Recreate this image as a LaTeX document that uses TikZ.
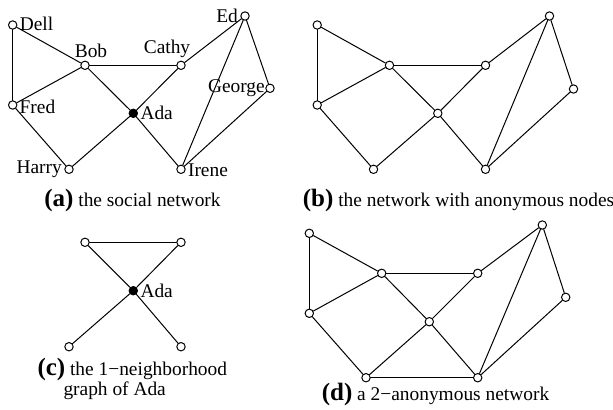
\documentclass[tikz,border=0pt]{standalone}
\usepackage{fontspec}
\setmainfont{Liberation Serif}
\newcommand{\tagfont}{\fontsize{12.5}{14}\selectfont\bfseries}
\begin{document}
\begin{tikzpicture}[x=0.5pt,y=-0.5pt,line join=round,line cap=round,line width=0.5pt]
  \tikzset{every node/.style={font=\fontsize{9.7}{11.5}\selectfont},
    vtx/.style={circle,draw,fill=white,inner sep=0pt,minimum size=4.2pt},
    ego/.style={vtx,fill=black},
    lbl/.style={inner sep=1pt}}
  \useasboundingbox (0,0) rectangle (613,409);
  % (a) the social network
  \node[vtx,label={[lbl,anchor=west]10:Dell}] (a-dell) at (12.7,25) {};
  \node[vtx,label={[lbl,xshift=3pt]above:Bob}] (a-bob) at (85,65.3) {};
  \node[vtx,label={[lbl,xshift=-7pt]above:Cathy}] (a-cathy) at (181,65.3) {};
  \node[vtx,label={[lbl]left:Ed}] (a-ed) at (245,16) {};
  \node[vtx,label={[lbl,inner sep=0pt]left:George}] (a-george) at (270,88.3) {};
  \node[vtx,label={[lbl,anchor=west]-18:Fred}] (a-fred) at (12.7,105) {};
  \node[ego,label={[lbl]right:Ada}] (a-ada) at (133.3,113.3) {};
  \node[vtx,label={[lbl]left:Harry}] (a-harry) at (69,169.3) {};
  \node[vtx,label={[lbl,anchor=west]-15:Irene}] (a-irene) at (181,169.3) {};
  \foreach \u/\v in {dell/fred,dell/bob,bob/fred,bob/cathy,bob/ada,cathy/ada,cathy/ed,
      ed/george,ed/irene,george/irene,fred/harry,harry/ada,ada/irene}
    \draw (a-\u) -- (a-\v);
  \node[anchor=base] (cap-a) at (132.5,206) {{\tagfont(a)} the social network};
  % (b) the network with anonymous nodes
  \foreach \n/\x/\y in {dell/12.7/25,bob/85/65.3,cathy/181/65.3,ed/245/16,george/269/89,
      fred/12.7/105,ada/133.3/113.3,harry/69/169.3,irene/181/169.3}
    \node[vtx] (b-\n) at (\x+304.5,\y) {};
  \foreach \u/\v in {dell/fred,dell/bob,bob/fred,bob/cathy,bob/ada,cathy/ada,cathy/ed,
      ed/george,ed/irene,george/irene,fred/harry,harry/ada,ada/irene}
    \draw (b-\u) -- (b-\v);
  \node[anchor=base] (cap-b) at (458.5,206) {{\tagfont(b)} the network with anonymous nodes};
  % (c) the 1-neighborhood graph of Ada
  \node[vtx] (c-bob) at (85,242.3) {};
  \node[vtx] (c-cathy) at (181,242.3) {};
  \node[ego,label={[lbl]right:Ada}] (c-ada) at (133.3,290.7) {};
  \node[vtx] (c-harry) at (69,346.7) {};
  \node[vtx] (c-irene) at (181,346.7) {};
  \foreach \u/\v in {bob/cathy,bob/ada,cathy/ada,ada/harry,ada/irene}
    \draw (c-\u) -- (c-\v);
  \node[anchor=base west,align=left,inner sep=0pt] (cap-c) at (37,395)
    {{\tagfont(c)} the 1−neighborhood\\[-1.75pt]\hspace*{13pt}graph of Ada};
  % (d) a 2-anonymous network
  \foreach \n/\x/\y in {dell/12.3/24.8,bob/84.7/64.8,cathy/180.7/64.8,ed/245.3/16.5,george/268.7/88.8,
      fred/12.3/104.8,ada/132.3/113.2,harry/69/169.2,irene/180.7/169.2}
    \node[vtx] (d-\n) at (\x+297,\y+208.5) {};
  \foreach \u/\v in {dell/fred,dell/bob,bob/fred,bob/cathy,bob/ada,cathy/ada,cathy/ed,
      ed/george,ed/irene,george/irene,fred/harry,harry/ada,ada/irene,harry/irene}
    \draw (d-\u) -- (d-\v);
  \node[anchor=base] (cap-d) at (435.5,400) {{\tagfont(d)} a 2−anonymous network};
\end{tikzpicture}
\end{document}
